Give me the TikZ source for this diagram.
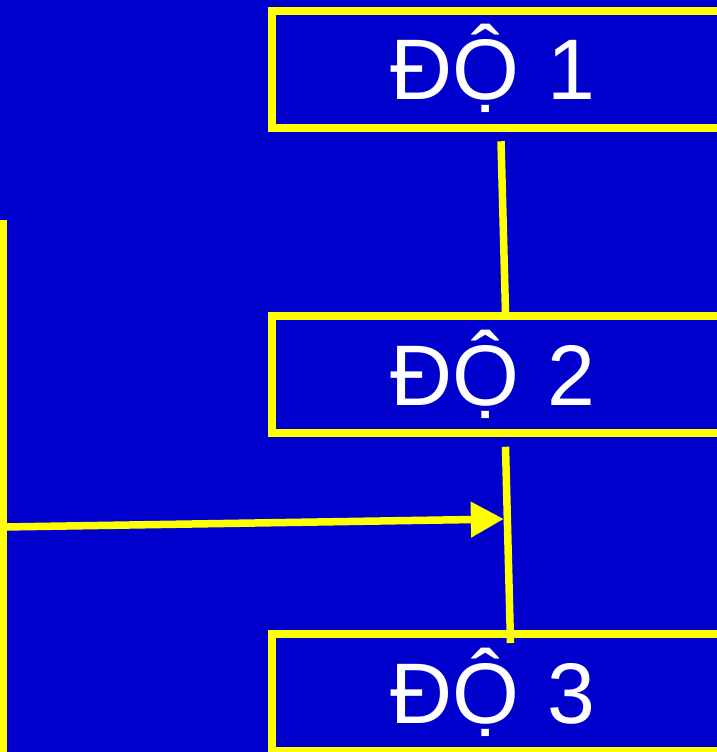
\documentclass[tikz,border=0pt]{standalone}
\usepackage{fontspec}
\setmainfont{Liberation Sans}
\usetikzlibrary{arrows.meta,positioning}
\definecolor{bgblue}{RGB}{0,0,204}
\definecolor{lineyellow}{RGB}{255,255,0}
\tikzset{
	dobox/.style = {rectangle,draw=lineyellow,line width=8pt,
		minimum height=117pt,text width=360pt,align=left,
		inner xsep=118pt,inner ysep=0pt,
		text height=61pt,text depth=0pt,text=white,
		font=\fontsize{86}{90}\selectfont,anchor=west},
	link/.style  = {draw=lineyellow,line width=7.5pt},
	arr/.style   = {link,-{Triangle[length=33pt,width=34pt]}},
}

\begin{document}
\begin{tikzpicture}[x=1pt,y=-1pt]
	\useasboundingbox (0,0) rectangle (717,752);
	\clip (0,0) rectangle (717,752);
	\fill[bgblue] (0,0) rectangle (717,752);

	\node (box1) [dobox] at (268,69.25) {ĐỘ 1};
	\node (box2) [dobox] at (268,374.75) {ĐỘ 2};
	\node (box3) [dobox] at (268,692.5) {ĐỘ 3};

	\draw[link] ([shift={(233,9.5)}]box1.south west)
		-- ([shift={(237.5,0)}]box2.north west);
	\draw[link] ([shift={(237.5,9.5)}]box2.south west)
		-- coordinate[pos=0.368] (hit) ([shift={(242.5,13)}]box3.north west);

	% feed line on the left
	\coordinate (feedtop) at (3.5,220);
	\coordinate (feedend) at (3.5,760);
	\coordinate (tap) at (3.5,527);
	\draw[link] (feedtop) -- (feedend);
	\draw[arr,shorten >=3.5pt] (tap) -- (hit);
\end{tikzpicture}
\end{document}
